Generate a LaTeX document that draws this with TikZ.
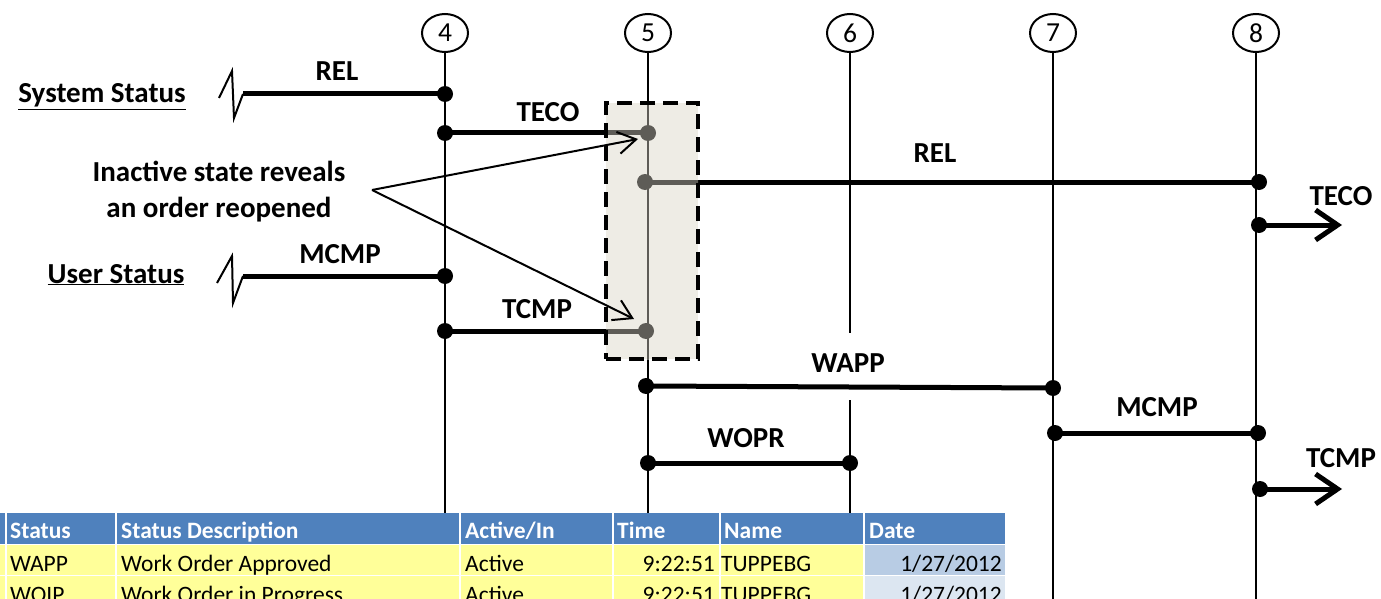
\documentclass[tikz,border=0pt]{standalone}
\usepackage{fontspec}
\setmainfont{Carlito}
\usetikzlibrary{arrows.meta,shapes.geometric}
\definecolor{hdrblue}{HTML}{4F81BD}
\definecolor{rowyellow}{HTML}{FFFF99}
\definecolor{dateA}{HTML}{B8CCE4}
\definecolor{dateB}{HTML}{DCE6F1}
\definecolor{boxfill}{HTML}{EEECE5}
\definecolor{inact}{HTML}{5E5C57}
\tikzset{
  tlnum/.style={draw, ellipse, line width=2pt, minimum width=46pt, minimum height=38pt, inner sep=0pt, font=\fontsize{27.5}{30}\selectfont},
  vline/.style={line width=2pt},
  hline/.style={line width=5pt},
  zig/.style={line width=2pt, line join=miter},
  dotb/.style={circle, fill=black, minimum size=16pt, inner sep=0pt},
  dotg/.style={circle, fill=inact, minimum size=16pt, inner sep=0pt},
  lab/.style={font=\fontsize{29}{32}\selectfont\bfseries, anchor=base, inner sep=0pt},
  outarrow/.style={line width=5pt, -{Straight Barb[length=22pt 0 0, width=30pt 0 0, line width=5pt]}},
  ptr/.style={line width=2pt, -{Straight Barb[length=18pt 0 0, width=22pt 0 0, line width=2pt]}},
  hbox/.style={draw, line width=4pt, dash pattern=on 15pt off 8pt, minimum width=92pt, minimum height=256pt, inner sep=0pt},
  th/.style={font=\fontsize{23.5}{26}\selectfont\bfseries, text=white, anchor=base west, inner sep=0pt},
  td/.style={font=\fontsize{23.5}{26}\selectfont, anchor=base west, inner sep=0pt},
  tdr/.style={font=\fontsize{23.5}{26}\selectfont, anchor=base east, inner sep=0pt},
}
\begin{document}
\begin{tikzpicture}[x=1pt,y=-1pt]
\useasboundingbox (0,0) rectangle (1381,599);
\clip (0,0) rectangle (1381,599);

% timeline heads
\node[tlnum] (c4) at (445,33) {4};
\node[tlnum] (c5) at (648,33) {5};
\node[tlnum] (c6) at (850,33) {6};
\node[tlnum] (c7) at (1053,33) {7};
\node[tlnum] (c8) at (1256,33) {8};

% highlight box fill
\fill[boxfill] (606,103) rectangle (698,359);

% timeline ends
\coordinate (b4) at (445,513);
\coordinate (b5) at (648,513);
\coordinate (g6a) at (850,333);
\coordinate (g6b) at (850,400);
\coordinate (b6) at (850,513);
\coordinate (b7) at (1053,599);
\coordinate (b8) at (1256,599);

\draw[vline] (c4.south) -- (b4);
\draw[vline] (c5.south) -- (b5);
\draw[vline] (c6.south) -- (g6a);
\draw[vline] (g6b) -- (b6);
\draw[vline] (c7.south) -- (b7);
\draw[vline] (c8.south) -- (b8);

% event points
\coordinate (z1) at (243,94);
\coordinate (z2) at (243,276);
\node[dotb] (s4a) at (445,94) {};
\node[dotb] (s4b) at (445,133) {};
\node[dotg] (s5a) at (648,133) {};
\node[dotg] (s5b) at (645,182) {};
\node[dotb] (s8a) at (1259,182) {};
\node[dotb] (s8b) at (1259,225) {};
\coordinate (e8b) at (1342,225);
\node[dotb] (u4a) at (445,276) {};
\node[dotb] (u4b) at (445,331) {};
\node[dotg] (u5b) at (646,331) {};
\node[dotb] (u5c) at (646,386) {};
\node[dotb] (u7a) at (1053,388) {};
\node[dotb] (u7b) at (1055,433) {};
\node[dotb] (u8b) at (1258,433) {};
\node[dotb] (u5d) at (648,463) {};
\node[dotb] (u6d) at (850,463) {};
\node[dotb] (u8c) at (1260,489) {};
\coordinate (e8c) at (1342,489);

% break marks
\draw[zig] (219,98) -- (232,71) -- (234,118) -- (z1);
\draw[zig] (217,283) -- (232,256) -- (233,303) -- (z2);

% status lines
\draw[hline] (z1) -- (s4a.center);
\draw[hline] (s4b.center) -- (s5a.center);
\draw[hline] (s5b.center) -- (s8a.center);
\draw[outarrow] (s8b.center) -- (e8b);
\draw[hline] (z2) -- (u4a.center);
\draw[hline] (u4b.center) -- (u5b.center);
\draw[hline] (u5c.center) -- (u7a.center);
\draw[hline] (u7b.center) -- (u8b.center);
\draw[hline] (u5d.center) -- (u6d.center);
\draw[outarrow] (u8c.center) -- (e8c);

% inactive part inside highlight box
\begin{scope}
\clip (606,103) rectangle (698,359);
\fill[boxfill] (606,103) rectangle (698,359);
\draw[vline, inact] (c5.south) -- (b5);
\draw[hline, inact] (s4b.center) -- (s5a.center);
\draw[hline, inact] (s5b.center) -- (s8a.center);
\draw[hline, inact] (u4b.center) -- (u5b.center);
\fill[inact] (s5a) circle (8);
\fill[inact] (s5b) circle (8);
\fill[inact] (u5b) circle (8);
\end{scope}
\node[hbox] (hl) at (652,231) {};

% labels
\node[lab] (lREL1) at (337,81) {REL};
\node[lab] (lTECO1) at (548,122) {TECO};
\node[lab] (lREL2) at (935,162) {REL};
\node[lab] (lTECO2) at (1341,205) {TECO};
\node[lab] (lMCMP1) at (340,263) {MCMP};
\node[lab] (lTCMP1) at (537,318) {TCMP};
\node[lab] (lWAPP) at (848,372) {WAPP};
\node[lab] (lMCMP2) at (1157,416) {MCMP};
\node[lab] (lWOPR) at (746,447) {WOPR};
\node[lab] (lTCMP2) at (1341,467) {TCMP};

\node[lab] (sys) at (102,103) {\underline{System Status}};
\node[lab] (usr) at (116,283) {\underline{User Status}};
\node[lab] (note1) at (219,181) {Inactive state reveals};
\node[lab] (note2) at (219,217) {an order reopened};

\coordinate (pt) at (372,190);
\draw[ptr] (pt) -- (638,139);
\draw[ptr] (pt) -- (634,319);

% table
\fill[hdrblue] (0,513) rectangle (1005,544);
\fill[rowyellow] (0,545) rectangle (864,599);
\fill[dateA] (864,545) rectangle (1005,575);
\fill[dateB] (864,576) rectangle (1005,599);
\draw[white, line width=1.5pt] (0,544.5) -- (1005,544.5);
\draw[white, line width=1.5pt] (0,575.5) -- (1005,575.5);
\foreach \cx in {6,116,460,613,720,864} \draw[white, line width=1.5pt] (\cx,513) -- (\cx,599);

\node[th] (h1) at (10,538) {Status};
\node[th] (h2) at (121,538) {Status Description};
\node[th] (h3) at (465,538) {Active/In};
\node[th] (h4) at (617,538) {Time};
\node[th] (h5) at (724,538) {Name};
\node[th] (h6) at (869,538) {Date};

\node[td] (r1a) at (10,571) {WAPP};
\node[td] (r1b) at (121,571) {Work Order Approved};
\node[td] (r1c) at (465,571) {Active};
\node[tdr] (r1d) at (715,571) {9:22:51};
\node[td] (r1e) at (721,571) {TUPPEBG};
\node[tdr] (r1f) at (1002,571) {1/27/2012};

\node[td] (r2a) at (10,602) {WOIP};
\node[td] (r2b) at (121,602) {Work Order in Progress};
\node[td] (r2c) at (465,602) {Active};
\node[tdr] (r2d) at (715,602) {9:22:51};
\node[td] (r2e) at (721,602) {TUPPEBG};
\node[tdr] (r2f) at (1002,602) {1/27/2012};
\end{tikzpicture}
\end{document}
